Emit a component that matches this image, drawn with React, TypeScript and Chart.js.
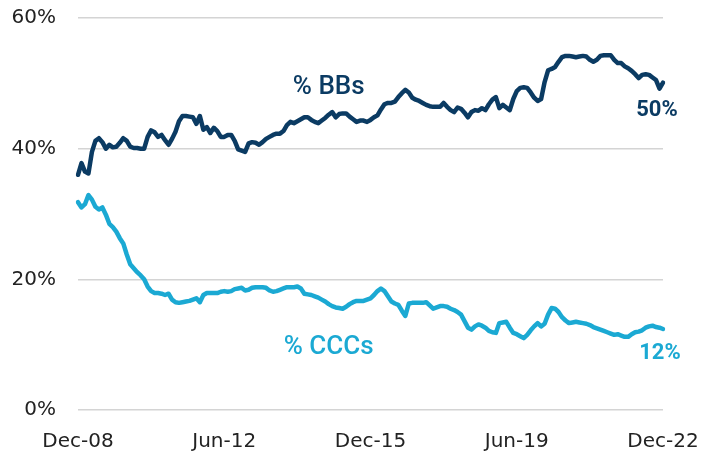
import React, { useEffect, useRef } from "react";
import { Chart, registerables } from "chart.js";

Chart.register(...registerables);

const MONTH_NAMES = ["Jan", "Feb", "Mar", "Apr", "May", "Jun", "Jul", "Aug", "Sep", "Oct", "Nov", "Dec"];

// Monthly categories Dec-08 .. Dec-22
const categories: string[] = [];
for (let i = 0; i <= 168; i++) {
  const k = 11 + i;
  const yr = 2008 + Math.floor(k / 12);
  categories.push(`${MONTH_NAMES[k % 12]}-${String(yr % 100).padStart(2, "0")}`);
}

const tickLabels = ["Dec-08", "Jun-12", "Dec-15", "Jun-19", "Dec-22"];
const yTicks = [0, 20, 40, 60];

// % of index rated BB
const bbShare = [
  36.0, 37.8, 36.5, 36.2, 39.5, 41.2, 41.6, 41.0, 40.0, 40.6,
  40.2, 40.3, 40.9, 41.6, 41.2, 40.3, 40.1, 40.1, 40.0, 40.0,
  41.8, 42.8, 42.5, 41.8, 42.1, 41.3, 40.6, 41.5, 42.6, 44.2,
  45.0, 45.0, 44.9, 44.8, 43.8, 45.0, 42.9, 43.3, 42.4, 43.2,
  42.7, 41.8, 41.8, 42.1, 42.1, 41.2, 39.9, 39.7, 39.5, 40.8,
  41.0, 40.9, 40.6, 41.0, 41.5, 41.8, 42.1, 42.3, 42.3, 42.7,
  43.6, 44.1, 43.9, 44.2, 44.5, 44.8, 44.8, 44.4, 44.1, 43.9,
  44.3, 44.7, 45.2, 45.6, 44.8, 45.3, 45.4, 45.4, 44.9, 44.5,
  44.1, 44.3, 44.3, 44.1, 44.4, 44.8, 45.1, 46.0, 46.8, 47.0,
  47.0, 47.2, 47.9, 48.5, 49.0, 48.6, 47.8, 47.5, 47.3, 47.0,
  46.7, 46.5, 46.4, 46.4, 46.4, 47.0, 46.4, 45.9, 45.6, 46.3,
  46.1, 45.5, 44.8, 45.6, 45.9, 45.8, 46.2, 45.9, 46.8, 47.5,
  47.9, 46.2, 46.7, 46.3, 45.9, 47.6, 48.8, 49.3, 49.4, 49.3,
  48.6, 47.8, 47.3, 47.6, 50.2, 52.0, 52.2, 52.5, 53.3, 54.0,
  54.2, 54.2, 54.1, 54.0, 54.1, 54.2, 54.1, 53.6, 53.3, 53.6,
  54.2, 54.3, 54.3, 54.3, 53.6, 53.1, 53.1, 52.6, 52.3, 51.9,
  51.4, 50.8, 51.3, 51.4, 51.3, 50.9, 50.5, 49.2, 50.1,
];

// % of index rated CCC
const cccShare = [
  31.8, 31.0, 31.5, 32.9, 32.2, 31.1, 30.7, 31.0, 29.9, 28.5,
  28.0, 27.3, 26.3, 25.5, 23.8, 22.3, 21.7, 21.1, 20.6, 20.0,
  18.9, 18.2, 17.9, 17.9, 17.8, 17.6, 17.8, 16.9, 16.5, 16.4,
  16.5, 16.6, 16.7, 16.9, 17.1, 16.5, 17.6, 17.9, 17.9, 17.9,
  17.9, 18.1, 18.2, 18.1, 18.2, 18.5, 18.6, 18.7, 18.3, 18.4,
  18.7, 18.8, 18.8, 18.8, 18.7, 18.3, 18.1, 18.2, 18.4, 18.6,
  18.8, 18.8, 18.8, 18.9, 18.6, 17.8, 17.7, 17.6, 17.4, 17.2,
  16.9, 16.6, 16.2, 15.9, 15.7, 15.6, 15.5, 15.8, 16.2, 16.5,
  16.7, 16.7, 16.7, 16.9, 17.1, 17.6, 18.2, 18.6, 18.2, 17.4,
  16.6, 16.3, 16.1, 15.2, 14.4, 16.3, 16.4, 16.4, 16.4, 16.4,
  16.5, 16.0, 15.5, 15.7, 15.9, 15.9, 15.8, 15.5, 15.3, 15.0,
  14.6, 13.6, 12.6, 12.3, 12.8, 13.1, 12.9, 12.6, 12.1, 11.9,
  11.8, 13.3, 13.4, 13.5, 12.6, 11.8, 11.6, 11.3, 11.0, 11.5,
  12.2, 12.8, 13.3, 12.8, 13.2, 14.6, 15.6, 15.5, 15.0, 14.2,
  13.7, 13.3, 13.4, 13.5, 13.4, 13.3, 13.2, 13.0, 12.7, 12.5,
  12.3, 12.1, 11.9, 11.7, 11.5, 11.6, 11.4, 11.2, 11.2, 11.6,
  11.9, 12.0, 12.2, 12.6, 12.8, 12.9, 12.7, 12.6, 12.4,
];

const seriesNames = ["% BBs", "% CCCs"];
const endLabels = ["50%", "12%"];

const NAVY = "#0b3b63";
const CYAN = "#1ba9d3";

const labelPlugin = {
  id: "seriesLabels",
  afterDatasetsDraw(chart: any) {
    const { ctx, scales } = chart;
    const xs = scales.x;
    const ys = scales.y;
    ctx.save();
    ctx.textAlign = "center";
    ctx.textBaseline = "middle";

    // series names
    ctx.font = "500 26px Roboto";
    ctx.fillStyle = NAVY;
    ctx.fillText(seriesNames[0], xs.getPixelForValue(72), ys.getPixelForValue(49.4));
    ctx.fillStyle = CYAN;
    ctx.fillText(seriesNames[1], xs.getPixelForValue(72), ys.getPixelForValue(9.5));

    // end value labels
    const last = categories.length - 1;
    ctx.font = "bold 22px Roboto";
    ctx.fillStyle = NAVY;
    ctx.fillText(endLabels[0], xs.getPixelForValue(last) - 6, ys.getPixelForValue(bbShare[last]) + 28);
    ctx.fillStyle = CYAN;
    ctx.fillText(endLabels[1], xs.getPixelForValue(last) - 3, ys.getPixelForValue(cccShare[last]) + 25);
    ctx.restore();
  },
};

export default function App() {
  const canvasRef = useRef<HTMLCanvasElement | null>(null);

  useEffect(() => {
    document.body.style.margin = "0";
    const canvas = canvasRef.current;
    if (!canvas) return;
    const chart = new Chart(canvas, {
      type: "line",
      data: {
        labels: categories,
        datasets: [
          {
            label: seriesNames[0],
            data: bbShare,
            borderColor: NAVY,
            backgroundColor: NAVY,
            borderWidth: 4.5,
            pointRadius: 0,
            tension: 0,
            borderJoinStyle: "round",
            borderCapStyle: "round",
          },
          {
            label: seriesNames[1],
            data: cccShare,
            borderColor: CYAN,
            backgroundColor: CYAN,
            borderWidth: 4.5,
            pointRadius: 0,
            tension: 0,
            borderJoinStyle: "round",
            borderCapStyle: "round",
          },
        ],
      },
      options: {
        animation: false,
        responsive: true,
        maintainAspectRatio: false,
        devicePixelRatio: 1,
        layout: { padding: { top: 18, right: 38, left: 0, bottom: 0 } },
        plugins: {
          legend: { display: false },
          tooltip: { enabled: false },
        },
        scales: {
          x: {
            type: "category",
            grid: { display: false },
            border: { display: false },
            ticks: {
              autoSkip: false,
              maxRotation: 0,
              minRotation: 0,
              padding: 12,
              color: "#222222",
              font: { family: "DejaVu Sans", size: 20 },
              callback: (_v: any, idx: number) =>
                tickLabels.includes(categories[idx]) && idx % 42 === 0 ? categories[idx] : "",
            },
            afterFit: (scale: any) => {
              scale.height = 45;
              scale.paddingLeft = 0;
              scale.paddingRight = 0;
            },
          },
          y: {
            min: 0,
            max: 60,
            afterBuildTicks: (scale: any) => {
              scale.ticks = yTicks.map((v) => ({ value: v }));
            },
            grid: { color: "#d4d4d4", lineWidth: 1.5, drawTicks: false },
            border: { display: false },
            ticks: {
              padding: 22,
              color: "#222222",
              font: { family: "DejaVu Sans", size: 20 },
              callback: (v: any) => `${v}%`,
            },
            afterFit: (scale: any) => {
              scale.width = 78;
              scale.paddingTop = 0;
              scale.paddingBottom = 0;
            },
          },
        },
      },
      plugins: [labelPlugin],
    });
    return () => chart.destroy();
  }, []);

  return (
    <div style={{ position: "relative", width: 701, height: 455 }}>
      <canvas ref={canvasRef} />
    </div>
  );
}
